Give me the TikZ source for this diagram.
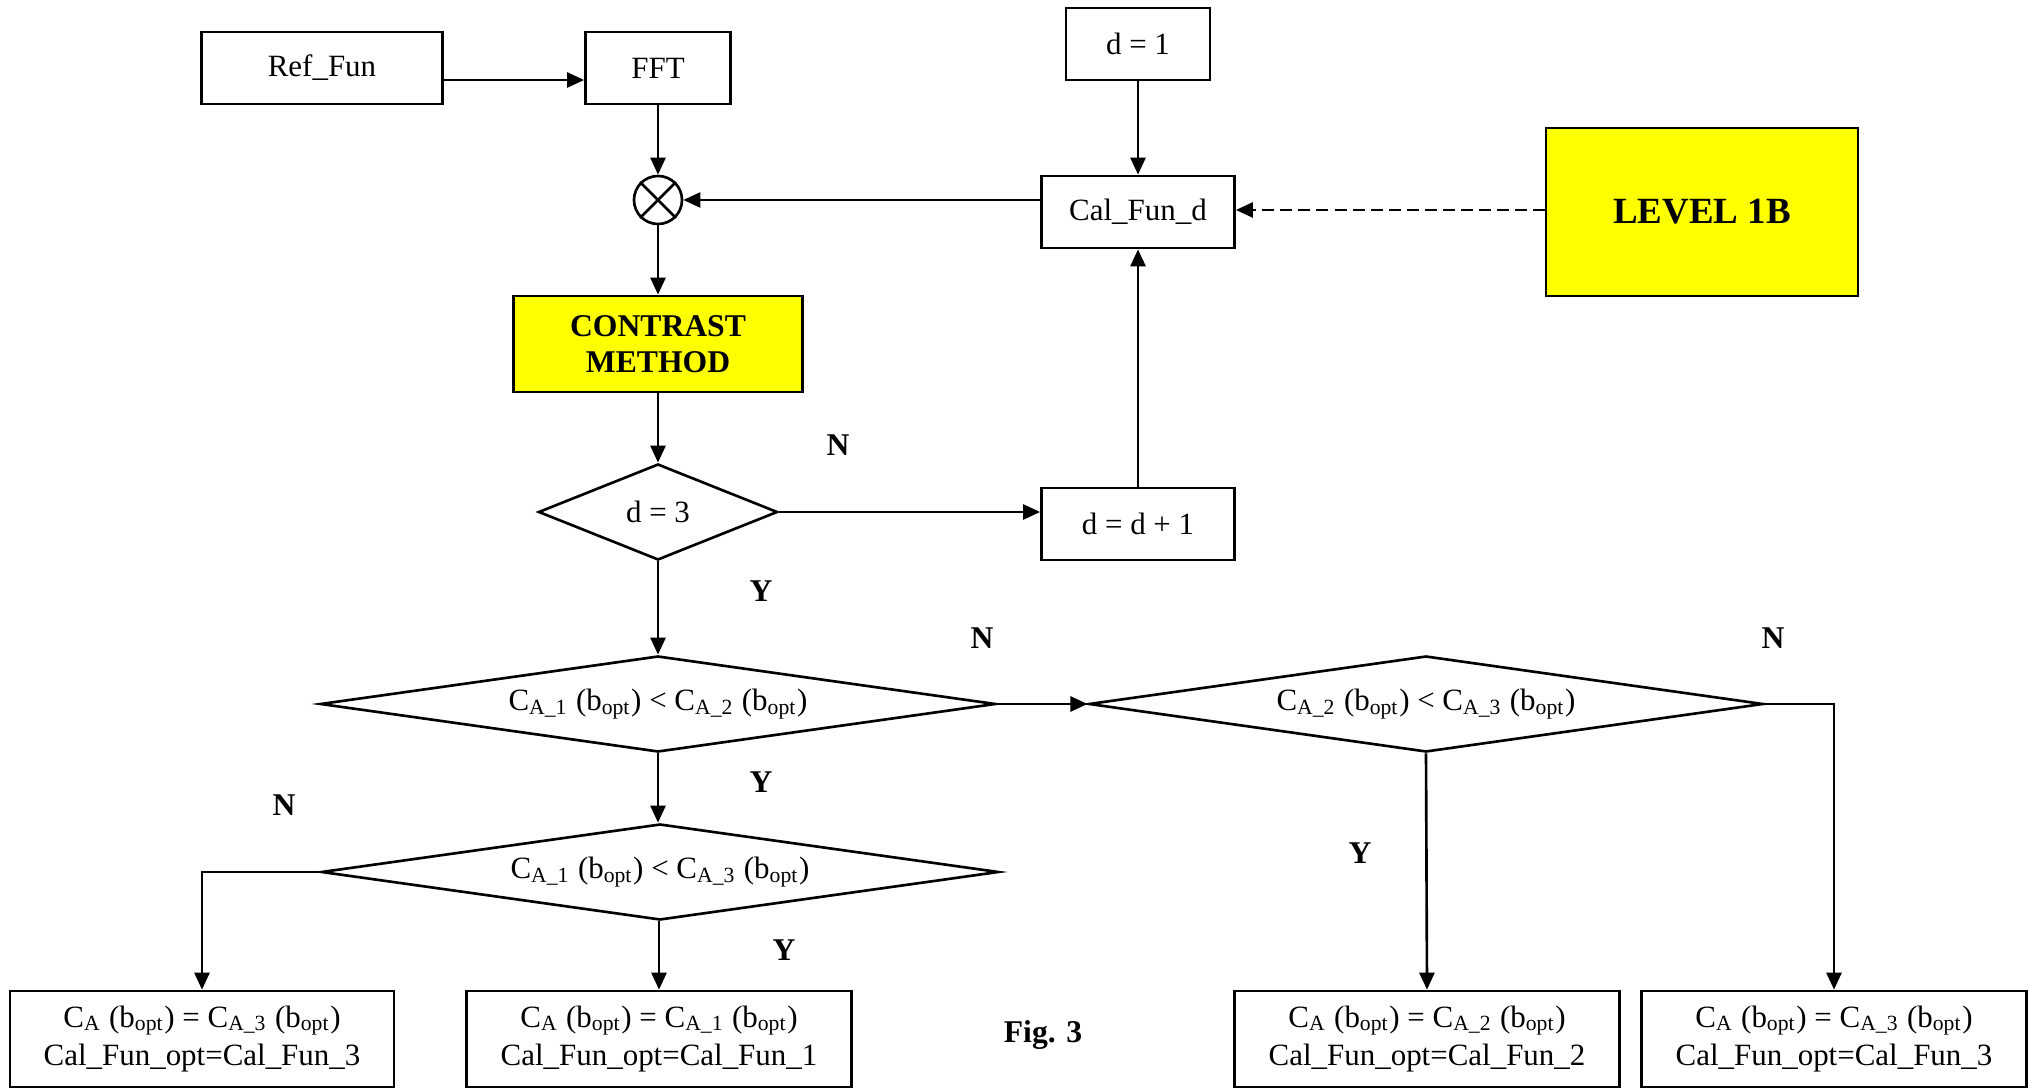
\documentclass[tikz,border=0pt]{standalone}
\usepackage{fontspec}
\setmainfont{Liberation Serif}
\usetikzlibrary{shapes.geometric,arrows.meta}
\definecolor{pureyellow}{rgb}{1,1,0}
\begin{document}
\begin{tikzpicture}[x=0.01cm,y=-0.01cm,
  font=\fontsize{8.8}{11}\selectfont,
  line width=0.75pt,
  box/.style={draw,rectangle,inner sep=0pt,align=center,fill=white},
  ybox/.style={box,fill=pureyellow,font=\fontsize{9}{10.3}\selectfont\bfseries},
  dec/.style={draw,diamond,inner sep=0pt,align=center},
  arr/.style={-{Triangle[length=0.17cm,width=0.15cm]}},
  lbl/.style={font=\fontsize{9}{11}\selectfont\bfseries}
]
\useasboundingbox (0,0) rectangle (2037,1089);

% nodes
\node[box,minimum width=2.41cm,minimum height=0.72cm] (ref) at (322,68) {Ref\_Fun};
\node[box,minimum width=1.45cm,minimum height=0.72cm] (fft) at (658,68) {FFT};
\node[draw,circle,minimum size=0.48cm,inner sep=0pt] (circ) at (658,200) {};
\draw (circ.45) -- (circ.225) (circ.135) -- (circ.315);
\node[box,minimum width=1.44cm,minimum height=0.72cm] (d1) at (1138,44) {d = 1};
\node[box,minimum width=1.93cm,minimum height=0.72cm] (cal) at (1138,212) {Cal\_Fun\_d};
\node[ybox,minimum width=3.12cm,minimum height=1.68cm,font=\fontsize{10.5}{12}\selectfont\bfseries] (lvl) at (1702,212) {LEVEL 1B};
\node[ybox,minimum width=2.89cm,minimum height=0.96cm] (con) at (658,344) {CONTRAST\\METHOD};
\node[dec,aspect=2.5,minimum width=2.39cm,minimum height=0.96cm] (d3) at (658,512) {d = 3};
\node[box,minimum width=1.93cm,minimum height=0.72cm] (dd) at (1138,524) {d = d + 1};
\node[dec,aspect=7,minimum width=6.75cm,minimum height=0.96cm] (q1) at (658,704)
  {C\textsubscript{A\_1} (b\textsubscript{opt}) {<} C\textsubscript{A\_2} (b\textsubscript{opt})};
\node[dec,aspect=7,minimum width=6.74cm,minimum height=0.96cm] (q2) at (1426,704)
  {C\textsubscript{A\_2} (b\textsubscript{opt}) {<} C\textsubscript{A\_3} (b\textsubscript{opt})};
\node[dec,aspect=7,minimum width=6.77cm,minimum height=0.96cm] (q3) at (660,872)
  {C\textsubscript{A\_1} (b\textsubscript{opt}) {<} C\textsubscript{A\_3} (b\textsubscript{opt})};
\node[box,minimum width=3.84cm,minimum height=0.96cm] (b1) at (202,1039)
  {C\textsubscript{A} (b\textsubscript{opt}) = C\textsubscript{A\_3} (b\textsubscript{opt})\\Cal\_Fun\_opt=Cal\_Fun\_3};
\node[box,minimum width=3.85cm,minimum height=0.96cm] (b2) at (659,1039)
  {C\textsubscript{A} (b\textsubscript{opt}) = C\textsubscript{A\_1} (b\textsubscript{opt})\\Cal\_Fun\_opt=Cal\_Fun\_1};
\node[box,minimum width=3.85cm,minimum height=0.96cm] (b3) at (1427,1039)
  {C\textsubscript{A} (b\textsubscript{opt}) = C\textsubscript{A\_2} (b\textsubscript{opt})\\Cal\_Fun\_opt=Cal\_Fun\_2};
\node[box,minimum width=3.85cm,minimum height=0.96cm] (b4) at (1834,1039)
  {C\textsubscript{A} (b\textsubscript{opt}) = C\textsubscript{A\_3} (b\textsubscript{opt})\\Cal\_Fun\_opt=Cal\_Fun\_3};

% labels
\node[lbl] (n1) at (838,445) {N};
\node[lbl] (y1) at (761,591) {Y};
\node[lbl] (n2) at (982,638) {N};
\node[lbl] (n3) at (1773,638) {N};
\node[lbl] (y2) at (761,782) {Y};
\node[lbl] (n4) at (284,805) {N};
\node[lbl] (y3) at (784,950) {Y};
\node[lbl] (y4) at (1360,853) {Y};
\node[lbl] (fig) at (1043,1035) {Fig. 3};

% connectors
\draw[arr] (ref.east |- 0,80) -- (fft.west |- 0,80);
\draw[arr] (fft.south) -- (circ.north);
\draw[arr] (cal.west |- circ.east) -- (circ.east);
\draw[arr] (d1.south) -- (cal.north);
\draw[arr,dash pattern=on 0.12cm off 0.06cm] (lvl.west |- 0,210) -- (cal.east |- 0,210);
\draw[arr] (circ.south) -- (con.north);
\draw[arr] (con.south) -- (d3.north);
\draw[arr] (d3.east) -- (dd.west |- d3.east);
\draw[arr] (dd.north) -- (cal.south);
\draw[arr] (d3.south) -- (q1.north);
\draw[arr] (q1.east) -- (q2.west);
\draw[arr] (q2.east) -| (b4.north);
\draw[arr] (q2.south) -- (b3.north);
\draw[arr] (q1.south) -- (q1.south |- q3.north);
\draw[arr] (q3.west) -| (b1.north);
\draw[arr] (q3.south -| b2.north) -- (b2.north);
\end{tikzpicture}
\end{document}
